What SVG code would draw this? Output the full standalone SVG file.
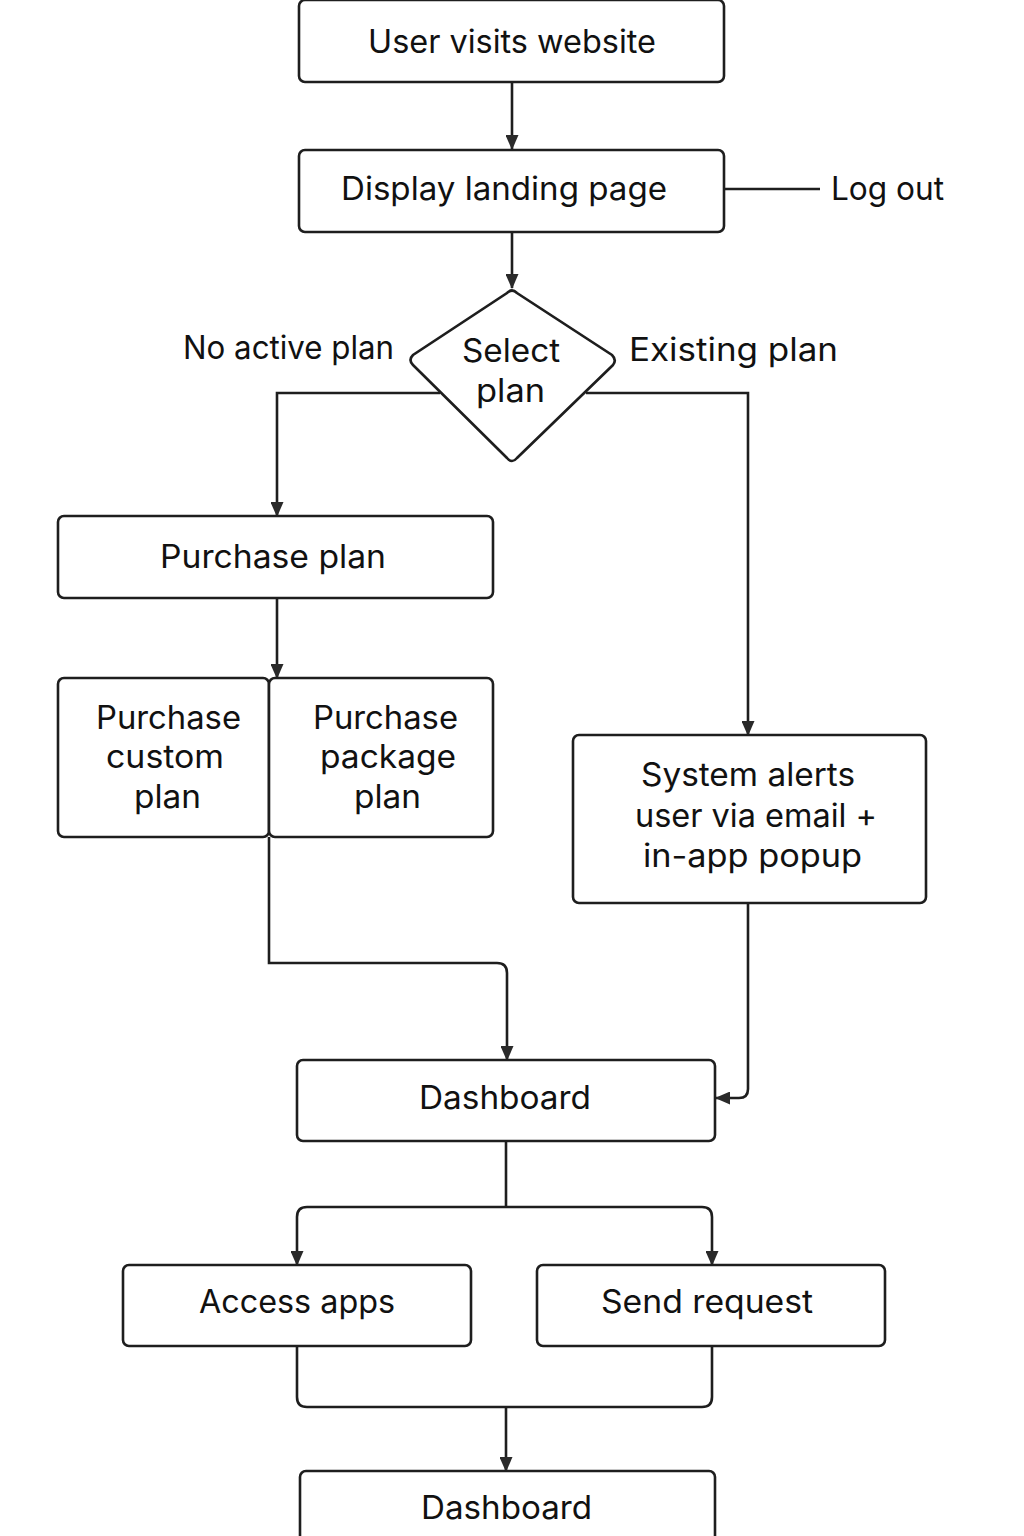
<svg xmlns="http://www.w3.org/2000/svg" width="1024" height="1536" viewBox="0 0 1024 1536">
<defs>
<marker id="arr" markerWidth="15" markerHeight="13" refX="14" refY="6.5" orient="auto" markerUnits="userSpaceOnUse">
<path d="M0,0 L15,6.5 L0,13 z" fill="#2a2a2a"/>
</marker>
<style>
.box{fill:#fff;stroke:#1e1e1e;stroke-width:2.6}
.t{font-family:Inter,"Liberation Sans",sans-serif;font-size:32px;fill:#111;text-anchor:middle}
.lbl{font-family:Inter,"Liberation Sans",sans-serif;font-size:32px;fill:#111}
.c{fill:none;stroke:#1e1e1e;stroke-width:2.6}
</style>
</defs>
<rect width="1024" height="1536" fill="#fff"/>
<g id="connectors">
<path class="c" d="M512,82 V149" marker-end="url(#arr)"/>
<path class="c" d="M724,189 H820"/>
<path class="c" d="M512,232 V288" marker-end="url(#arr)"/>
<path class="c" d="M440,393 H277 V516" marker-end="url(#arr)"/>
<path class="c" d="M586,393 H748 V735" marker-end="url(#arr)"/>
<path class="c" d="M277,598 V678" marker-end="url(#arr)"/>
<path class="c" d="M269,837 V963 H497 Q507,963 507,973 V1060" marker-end="url(#arr)"/>
<path class="c" d="M748,903 V1089 Q748,1098 739,1098 H716" marker-end="url(#arr)"/>
<path class="c" d="M506,1141 V1207"/>
<path class="c" d="M506,1207 H307 Q297,1207 297,1217 V1265" marker-end="url(#arr)"/>
<path class="c" d="M506,1207 H702 Q712,1207 712,1217 V1265" marker-end="url(#arr)"/>
<path class="c" d="M297,1346 V1397 Q297,1407 307,1407 H702 Q712,1407 712,1397 V1346"/>
<path class="c" d="M506,1407 V1471" marker-end="url(#arr)"/>
</g>
<g id="n1"><rect class="box" x="299" y="0" width="425" height="82" rx="6"/><text class="t" x="512" y="53" textLength="288" lengthAdjust="spacingAndGlyphs">User visits website</text></g>
<g id="n2"><rect class="box" x="299" y="150" width="425" height="82" rx="6"/><text class="t" x="504" y="200" textLength="326" lengthAdjust="spacingAndGlyphs">Display landing page</text></g>
<g id="logout"><text class="lbl" x="831" y="200" textLength="113" lengthAdjust="spacingAndGlyphs">Log out</text></g>
<g id="n3"><path class="box" d="M507,293 Q512,288 517,293 L612,355 Q617,360 613,365 L517,458 Q512,464 507,458 L413,365 Q408,360 413,355 Z"/><text class="t" x="511" y="362" textLength="98" lengthAdjust="spacingAndGlyphs">Select</text><text class="t" x="510.5" y="402" textLength="69" lengthAdjust="spacingAndGlyphs">plan</text></g>
<g id="lbl-no"><text class="lbl" x="183" y="359" textLength="211" lengthAdjust="spacingAndGlyphs">No active plan</text></g>
<g id="lbl-ex"><text class="lbl" x="629" y="361" textLength="209" lengthAdjust="spacingAndGlyphs">Existing plan</text></g>
<g id="n4"><rect class="box" x="58" y="516" width="435" height="82" rx="6"/><text class="t" x="273" y="568" textLength="226" lengthAdjust="spacingAndGlyphs">Purchase plan</text></g>
<g id="n5"><rect class="box" x="58" y="678" width="211" height="159" rx="6"/><text class="t" x="168.5" y="729" textLength="145" lengthAdjust="spacingAndGlyphs">Purchase</text><text class="t" x="165" y="768" textLength="118" lengthAdjust="spacingAndGlyphs">custom</text><text class="t" x="167.5" y="808" textLength="67" lengthAdjust="spacingAndGlyphs">plan</text></g>
<g id="n6"><rect class="box" x="269" y="678" width="224" height="159" rx="6"/><text class="t" x="385.5" y="729" textLength="145" lengthAdjust="spacingAndGlyphs">Purchase</text><text class="t" x="388" y="768" textLength="136" lengthAdjust="spacingAndGlyphs">package</text><text class="t" x="387.5" y="808" textLength="67" lengthAdjust="spacingAndGlyphs">plan</text></g>
<g id="n7"><rect class="box" x="573" y="735" width="353" height="168" rx="6"/><text class="t" x="748" y="786" textLength="214" lengthAdjust="spacingAndGlyphs">System alerts</text><text class="t" x="756" y="827" textLength="242" lengthAdjust="spacingAndGlyphs">user via email +</text><text class="t" x="752.5" y="867" textLength="219" lengthAdjust="spacingAndGlyphs">in-app popup</text></g>
<g id="n8"><rect class="box" x="297" y="1060" width="418" height="81" rx="6"/><text class="t" x="505" y="1109" textLength="172" lengthAdjust="spacingAndGlyphs">Dashboard</text></g>
<g id="n9"><rect class="box" x="123" y="1265" width="348" height="81" rx="6"/><text class="t" x="297" y="1313" textLength="196" lengthAdjust="spacingAndGlyphs">Access apps</text></g>
<g id="n10"><rect class="box" x="537" y="1265" width="348" height="81" rx="6"/><text class="t" x="707" y="1313" textLength="212" lengthAdjust="spacingAndGlyphs">Send request</text></g>
<g id="n11"><rect class="box" x="300" y="1471" width="415" height="90" rx="6"/><text class="t" x="506.5" y="1519" textLength="171" lengthAdjust="spacingAndGlyphs">Dashboard</text></g>
</svg>
